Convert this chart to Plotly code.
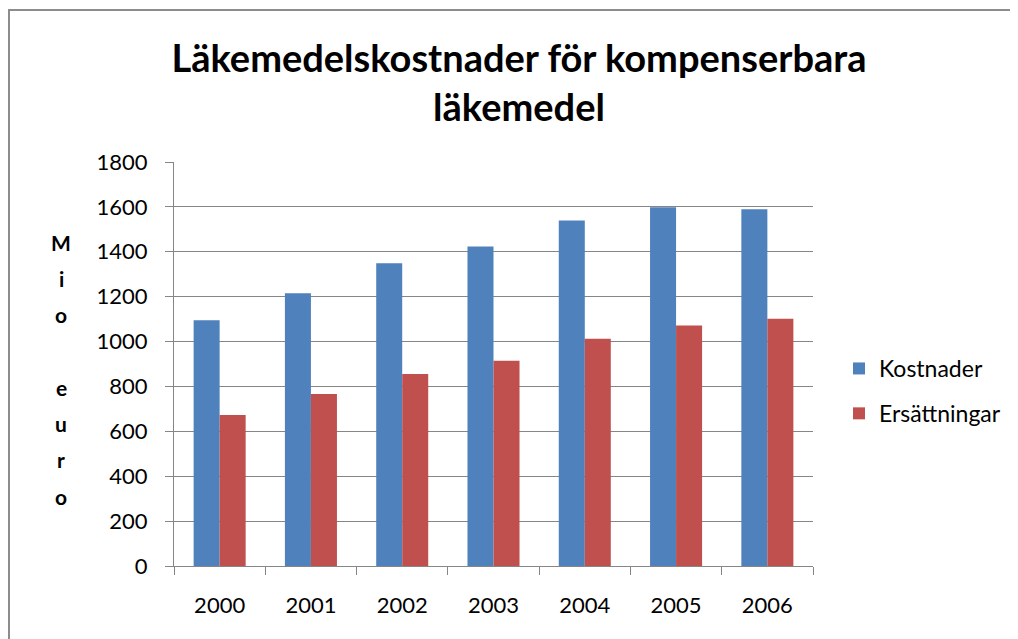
import plotly.graph_objects as go

years = ["2000", "2001", "2002", "2003", "2004", "2005", "2006"]
kostnader = [1095, 1215, 1349, 1423, 1539, 1598, 1589]
ersattningar = [673, 766, 855, 915, 1013, 1072, 1102]
y_ticks = [0, 200, 400, 600, 800, 1000, 1200, 1400, 1600, 1800]

# page has an 8px body margin, so work in figure pixels = screen - 8
OFF = 8
W, H = 1018 - OFF, 639 - OFF
L, R, T, B = 174 - OFF, 205, 162 - OFF, 73
FONT = "Lato"

fig = go.Figure()
fig.add_trace(go.Bar(x=years, y=kostnader, name="Kostnader", legendgroup="k",
                     marker=dict(color="#4F81BD", line=dict(width=0))))
fig.add_trace(go.Bar(x=years, y=ersattningar, name="Ersättningar", legendgroup="e",
                     marker=dict(color="#C0504D", line=dict(width=0))))

pw, ph = W - L - R, H - T - B


def px_x(p):
    # screen pixel -> paper
    return (p - OFF - L) / pw


def px_y(p):
    return (H - B - (p - OFF)) / ph


# vertical stacked y-axis title
annots = []
for i, ch in enumerate("Mio euro"):
    if ch == " ":
        continue
    annots.append(dict(text="<b>" + ch + "</b>", x=px_x(61), y=px_y(242 + i * 36.3),
                       xref="paper", yref="paper", showarrow=False,
                       font=dict(family=FONT, size=21, color="#000000"),
                       xanchor="center", yanchor="middle"))

fig.update_layout(
    width=W, height=H,
    margin=dict(l=L, r=R, t=T, b=B),
    paper_bgcolor="white", plot_bgcolor="white",
    title=dict(text="<b>Läkemedelskostnader för kompenserbara<br>läkemedel</b>",
               x=(519 - OFF) / W, xanchor="center", xref="container",
               y=1 - (72 - OFF) / H, yanchor="middle",
               font=dict(family=FONT, size=38, color="#000000")),
    barmode="group", bargap=0.43, bargroupgap=0,
    font=dict(family=FONT, size=22, color="#000000"),
    xaxis=dict(showgrid=False, showline=True, linecolor="#868686", linewidth=1,
               ticks="outside", tickson="boundaries", ticklen=8, tickcolor="#868686",
               ticklabelstandoff=20, tickfont=dict(size=22)),
    yaxis=dict(range=[0, 1800], tickvals=y_ticks, showgrid=True, gridcolor="#868686",
               gridwidth=1, showline=True, linecolor="#868686", linewidth=1,
               ticks="outside", ticklen=8, tickcolor="#868686", ticklabelstandoff=13,
               tickfont=dict(size=22), zeroline=False),
    legend=dict(x=px_x(839), y=px_y(347), xanchor="left", yanchor="top",
                font=dict(family=FONT, size=23), tracegroupgap=12, traceorder="grouped",
                itemwidth=30),
    annotations=annots,
    shapes=[dict(type="rect", xref="paper", yref="paper",
                 x0=px_x(9), x1=px_x(1016), y0=px_y(10), y1=px_y(660),
                 line=dict(color="#8C8C8C", width=2), layer="below")],
)

fig.write_html("out.html")
